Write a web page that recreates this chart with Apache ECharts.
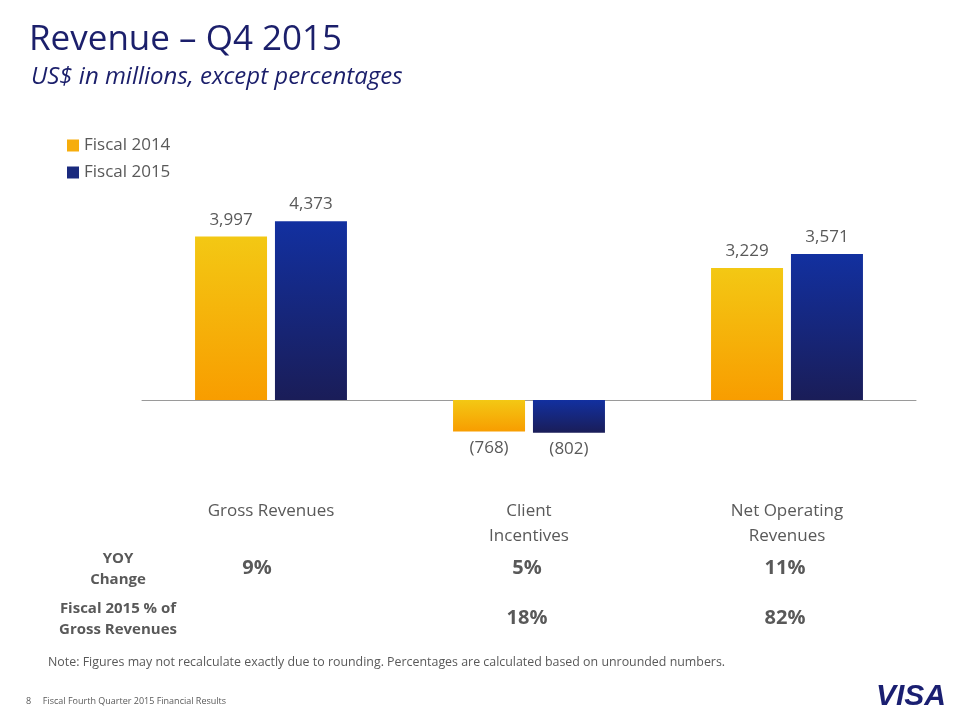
<!DOCTYPE html>
<html>
<head>
<meta charset="utf-8">
<script src="https://cdn.jsdelivr.net/npm/echarts@6/dist/echarts.min.js"></script>
<style>html,body{margin:0;padding:0;background:#fff;}#c{width:960px;height:720px;}</style>
</head>
<body>
<div id="c"></div>
<script>
var categories = ['Gross Revenues', 'Client\nIncentives', 'Net Operating\nRevenues'];
var fiscal2014 = [3997, -768, 3229];
var fiscal2015 = [4373, -802, 3571];
var yoyChange = ['9%', '5%', '11%'];
var shareOfGross = ['', '18%', '82%'];
var rowLabels = ['YOY\nChange', 'Fiscal 2015 % of\nGross Revenues'];

var FONT = '"Open Sans", "Noto Sans", sans-serif';
var GRAY = '#595959';
var NAVY = '#1b1f6b';

function fmt(p) {
  var v = p.value;
  var s = Math.abs(v).toLocaleString('en-US');
  return v < 0 ? '(' + s + ')' : s;
}
function grad(top, bottom) {
  return new echarts.graphic.LinearGradient(0, 0, 0, 1, [
    {offset: 0, color: top}, {offset: 1, color: bottom}
  ]);
}
function labelFor(data) {
  return data.map(function (v) {
    return {value: v, label: {position: v < 0 ? 'bottom' : 'top'}};
  });
}

var chart = echarts.init(document.getElementById('c'));
var option = {
  backgroundColor: '#fff',
  animation: false,
  title: [
    {text: 'Revenue – Q4 2015', left: 24, top: 18,
     textStyle: {fontFamily: FONT, fontSize: 35, fontWeight: 'normal', color: NAVY}},
    {text: 'US$ in millions, except percentages', left: 26, top: 60,
     textStyle: {fontFamily: FONT, fontSize: 24, fontStyle: 'italic', fontWeight: 'normal', color: NAVY}}
  ],
  legend: {
    orient: 'vertical', left: 62, top: 132, itemWidth: 12, itemHeight: 12, itemGap: 10,
    icon: 'rect',
    textStyle: {fontFamily: FONT, fontSize: 17, color: GRAY},
    data: [
      {name: 'Fiscal 2014', itemStyle: {color: '#f6ad0c'}},
      {name: 'Fiscal 2015', itemStyle: {color: '#1a2a7e'}}
    ]
  },
  grid: {left: 142, right: 44, top: 195.5, height: 245.4},
  xAxis: {
    type: 'category', data: categories,
    axisLine: {onZero: true, lineStyle: {color: '#9a9a9a', width: 1}},
    axisTick: {show: false},
    axisLabel: {margin: 58, verticalAlign: 'top', fontFamily: FONT, fontSize: 17, color: GRAY, lineHeight: 25}
  },
  yAxis: {
    type: 'value', min: -1000, max: 5000, show: false, splitLine: {show: false}
  },
  series: [
    {name: 'Fiscal 2014', type: 'bar', barWidth: 72, barGap: '11%',
     data: labelFor(fiscal2014),
     itemStyle: {color: grad('#f3c814', '#f89d00')},
     label: {show: true, formatter: fmt, fontFamily: FONT, fontSize: 17, color: GRAY, distance: 8}},
    {name: 'Fiscal 2015', type: 'bar', barWidth: 72,
     data: labelFor(fiscal2015),
     itemStyle: {color: grad('#1230a0', '#1a1d58')},
     label: {show: true, formatter: fmt, fontFamily: FONT, fontSize: 17, color: GRAY, distance: 8}}
  ]
};
chart.setOption(option);

var g = [];
rowLabels.forEach(function (t, i) {
  g.push({type: 'text', x: 118, y: i === 0 ? 548 : 598,
    style: {text: t, fontFamily: FONT, fontWeight: 'bold', fontSize: 15, lineHeight: 21, fill: GRAY, align: 'center', verticalAlign: 'top'}});
});
var offsets = [-14, -2, -2];
categories.forEach(function (c, i) {
  var x = chart.convertToPixel({xAxisIndex: 0}, i) + offsets[i];
  if (yoyChange[i]) g.push({type: 'text', x: x, y: 568,
    style: {text: yoyChange[i], fontFamily: FONT, fontWeight: 'bold', fontSize: 20, fill: GRAY, align: 'center', verticalAlign: 'middle'}});
  if (shareOfGross[i]) g.push({type: 'text', x: x, y: 618,
    style: {text: shareOfGross[i], fontFamily: FONT, fontWeight: 'bold', fontSize: 20, fill: GRAY, align: 'center', verticalAlign: 'middle'}});
});
g.push({type: 'text', x: 48, y: 662,
  style: {text: 'Note: Figures may not recalculate exactly due to rounding. Percentages are calculated based on unrounded numbers.',
    fontFamily: FONT, fontSize: 12.4, fill: GRAY, verticalAlign: 'middle'}});
g.push({type: 'text', x: 26, y: 701,
  style: {text: '8     Fiscal Fourth Quarter 2015 Financial Results', fontFamily: FONT, fontSize: 9, fill: GRAY, verticalAlign: 'middle'}});
g.push({type: 'text', x: 946, y: 697,
  style: {text: 'VISA', fontFamily: '"Liberation Sans", Arial, sans-serif', fontWeight: 'bold', fontStyle: 'italic', fontSize: 30, fill: '#1a1f71', align: 'right', verticalAlign: 'middle'}});
chart.setOption({graphic: g});
</script>
</body>
</html>
